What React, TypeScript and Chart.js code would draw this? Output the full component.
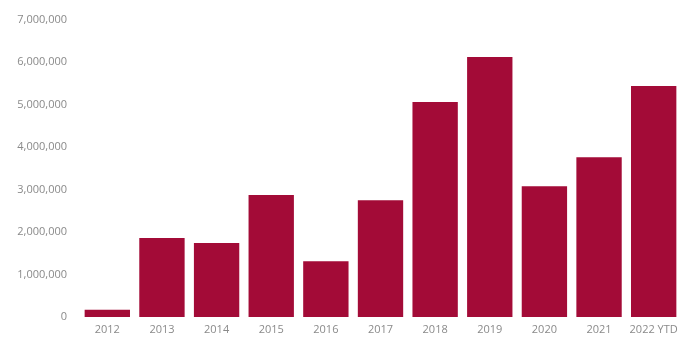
import React, { useEffect, useRef } from "react";
import { Chart, registerables } from "chart.js";

Chart.register(...registerables);

const categories = ["2012", "2013", "2014", "2015", "2016", "2017", "2018", "2019", "2020", "2021", "2022 YTD"];
const values = [170000, 1860000, 1740000, 2870000, 1310000, 2750000, 5060000, 6120000, 3080000, 3760000, 5440000];
const yMax = 7000000;
const yStep = 1000000;

export default function App() {
  const ref = useRef<HTMLCanvasElement | null>(null);
  useEffect(() => {
    document.body.style.margin = "0";
    const ctx = ref.current;
    if (!ctx) return;
    const chart = new Chart(ctx, {
      type: "bar",
      data: {
        labels: categories,
        datasets: [
          {
            data: values,
            backgroundColor: "#a30b37",
            borderWidth: 0,
            barPercentage: 0.83,
            categoryPercentage: 1,
          },
        ],
      },
      options: {
        responsive: false,
        animation: false,
        layout: { padding: { top: 13, right: 8, bottom: 0, left: 0 } },
        plugins: { legend: { display: false }, tooltip: { enabled: false } },
        scales: {
          x: {
            grid: { display: false, drawTicks: false },
            border: { display: false },
            ticks: {
              color: "#8a8a8a",
              font: { family: "Open Sans", size: 11 },
              padding: 6,
              maxRotation: 0,
              autoSkip: false,
            },
            afterFit: (s: any) => {
              s.height = 22;
            },
          },
          y: {
            min: 0,
            max: yMax,
            grid: { display: false, drawTicks: false },
            border: { display: false },
            ticks: {
              stepSize: yStep,
              color: "#8a8a8a",
              font: { family: "Open Sans", size: 11 },
              padding: 13,
              callback: (v: any) => Number(v).toLocaleString("en-US"),
            },
            afterFit: (s: any) => {
              s.width = 80;
            },
          },
        },
      },
    });
    return () => chart.destroy();
  }, []);
  return <canvas ref={ref} width={689} height={339} style={{ display: "block" }} />;
}
